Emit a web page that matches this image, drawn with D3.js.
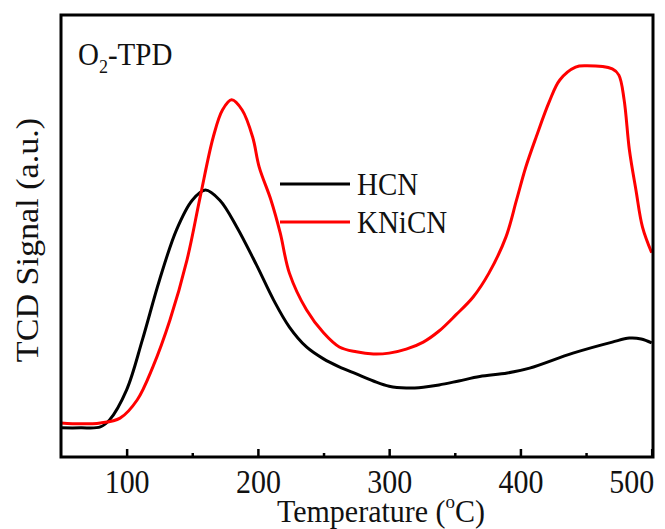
<!DOCTYPE html>
<html><head><meta charset="utf-8">
<script src="https://cdn.jsdelivr.net/npm/d3@7"></script>
<style>body{margin:0;background:#fff}svg{display:block}</style>
</head><body>
<script>
const hcnTemp = [50,65,80,87,100,112,125,138,150,160,171,184,199,212,224,237,250,262,275,288,300,313,326,338,353,369,390,407,440,470,483,492,500];
const hcnSignal = [6.6,6.6,6.8,8.4,15.2,26.5,40.0,51.4,58.1,60.4,58.1,52.0,43.4,35.5,29.4,24.9,22.2,20.4,18.8,17.2,16.0,15.6,15.8,16.3,17.2,18.2,19.0,20.1,23.5,26.0,26.9,26.7,25.8];
const kniTemp = [50,65,80,95,108,120,133,146,156,166,173,180,188,196,201,210,217,224,237,250,262,275,288,300,313,326,338,351,364,376,389,397,404,412,422,430,442,450,470,475,479,483,488,493,500];
const kniSignal = [7.7,7.5,7.7,8.8,12.9,20.4,31.0,44.6,58.8,72.4,78.5,80.8,78.5,72.4,65.6,58.1,50.7,41.6,33.3,28.1,24.9,23.8,23.3,23.5,24.4,26.0,28.5,32.2,36.2,41.6,49.8,58.1,65.5,72.4,80.4,85.3,88.2,88.5,87.8,86.4,80.8,69.5,60.4,52.0,46.2];
const xTicks = [100,200,300,400,500];
const xMinor = [150,250,350,450];
const seriesNames = ["HCN","KNiCN"];
const seriesColors = ["#000000","#ff0000"];
const FONT = '"Liberation Serif"';
const SY = 1.1; // vertical stretch of the reference lettering

const W=665,H=529;
const m={left:61,top:15,right:12,bottom:72};
const svg=d3.select("body").append("svg").attr("width",W).attr("height",H);
const x=d3.scaleLinear().domain([50,501]).range([m.left,W-m.right]);
const y=d3.scaleLinear().domain([0,100]).range([H-m.bottom,m.top]);
const pw=W-m.right-m.left, ph=H-m.bottom-m.top;

const line=d3.line().x(d=>x(d[0])).y(d=>y(d[1])).curve(d3.curveCatmullRom.alpha(0.5));
const data=[d3.zip(hcnTemp,hcnSignal), d3.zip(kniTemp,kniSignal)];
svg.append("clipPath").attr("id","c").append("rect").attr("x",m.left).attr("y",m.top).attr("width",pw).attr("height",ph);
data.forEach((d,i)=>{
  svg.append("path").datum(d).attr("d",line).attr("fill","none")
    .attr("stroke",seriesColors[i]).attr("stroke-width",3).attr("stroke-linejoin","round").attr("clip-path","url(#c)");
});

// axes
const xa=svg.append("g").attr("transform",`translate(0,${H-m.bottom})`)
  .call(d3.axisBottom(x).tickValues(xTicks).tickSize(-8).tickPadding(0).tickFormat(d3.format("d")));
xa.select(".domain").remove();
xa.selectAll("line").attr("stroke","#000").attr("stroke-width",2.5);
xa.selectAll("text").style("font-family",FONT).attr("font-size",30).attr("fill","#111")
  .attr("dy",0).attr("y",36/SY).attr("transform",`scale(1,${SY})`)
  .each(function(d){ if(d===500){ d3.select(this).attr("text-anchor","end").attr("x",2); } });
const xm=svg.append("g").attr("transform",`translate(0,${H-m.bottom})`)
  .call(d3.axisBottom(x).tickValues(xMinor).tickSize(-4).tickFormat(""));
xm.select(".domain").remove();
xm.selectAll("line").attr("stroke","#000").attr("stroke-width",2.5);

svg.append("rect").attr("x",m.left).attr("y",m.top).attr("width",pw).attr("height",ph)
  .attr("fill","none").attr("stroke","#000").attr("stroke-width",3);

// axis titles
const xt=svg.append("text").style("font-family",FONT).attr("fill","#111")
  .attr("transform",`translate(381,522) scale(1,1.04)`).attr("text-anchor","middle").attr("font-size",30);
xt.append("tspan").text("Temperature (");
xt.append("tspan").attr("font-size",19).attr("dy",-13).text("o");
xt.append("tspan").attr("dy",13).text("C)");
svg.append("text").style("font-family",FONT).attr("fill","#111")
  .attr("transform",`translate(38,240) scale(1,${SY}) rotate(-90)`).attr("text-anchor","middle").attr("font-size",31).text("TCD Signal (a.u.)");

// label
const lb=svg.append("text").style("font-family",FONT).attr("fill","#111")
  .attr("transform",`translate(78,65) scale(1,${SY})`).attr("font-size",29);
lb.append("tspan").text("O");
lb.append("tspan").attr("font-size",18).attr("dy",7).text("2");
lb.append("tspan").attr("dy",-7).text("-TPD");

// legend
seriesNames.forEach((n,i)=>{
  const yy=184+i*38;
  svg.append("line").attr("x1",280).attr("x2",350).attr("y1",yy).attr("y2",yy).attr("stroke",seriesColors[i]).attr("stroke-width",3);
  svg.append("text").style("font-family",FONT).attr("fill","#111")
    .attr("transform",`translate(357,${yy+11}) scale(1,${SY})`).attr("font-size",29).text(n);
});
</script>
</body></html>
